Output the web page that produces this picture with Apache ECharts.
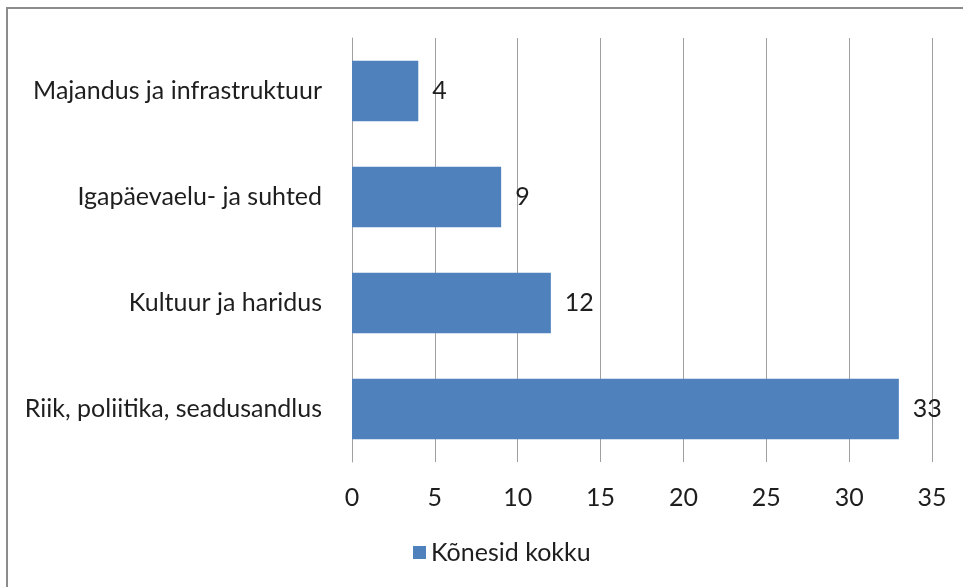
<!DOCTYPE html>
<html>
<head>
<meta charset="utf-8">
<script src="https://cdn.jsdelivr.net/npm/echarts@6/dist/echarts.min.js"></script>
<style>
  html, body { margin: 0; padding: 0; background: #fff; }
  #frame { position: absolute; left: 6px; top: 7px; width: 970px; height: 600px; border: 2px solid #8c8c8c; box-sizing: border-box; }
  #chart { position: absolute; left: 0; top: 0; width: 963px; height: 587px; }
</style>
</head>
<body>
<div id="frame"></div>
<div id="chart"></div>
<script>
// teemad ülalt alla
var categories = ['Majandus ja infrastruktuur', 'Igapäevaelu- ja suhted', 'Kultuur ja haridus', 'Riik, poliitika, seadusandlus'];
var speeches = [4, 9, 12, 33];
var seriesName = 'Kõnesid kokku';

var font = 'Lato, "Open Sans", sans-serif';
var fs = 25;
var myChart = echarts.init(document.getElementById('chart'));
myChart.setOption({
    animation: false,
    textStyle: { fontFamily: font },
    grid: { left: 352, right: 31, top: 38, bottom: 125, containLabel: false },
    legend: {
        bottom: 17,
        left: 408,
        itemWidth: 13,
        itemHeight: 13,
        icon: 'rect',
        itemGap: 6,
        textStyle: { fontSize: fs, color: '#1e1e1e', fontFamily: font },
        data: [seriesName]
    },
    xAxis: {
        type: 'value',
        min: 0,
        max: 35,
        interval: 5,
        axisLine: { show: false },
        axisTick: { show: false },
        splitLine: { show: true, lineStyle: { color: '#a0a0a0', width: 1 } },
        axisLabel: { fontSize: fs, color: '#1e1e1e', margin: 23, fontFamily: font }
    },
    yAxis: {
        type: 'category',
        inverse: true,
        data: categories,
        axisLine: { show: true, lineStyle: { color: '#a0a0a0' } },
        axisTick: { show: false },
        axisLabel: { fontSize: fs, color: '#1e1e1e', margin: 30, fontFamily: font }
    },
    series: [{
        name: seriesName,
        type: 'bar',
        data: speeches,
        barCategoryGap: '43%',
        itemStyle: { color: '#4f81bd' },
        label: { show: true, position: 'right', distance: 14, fontSize: fs, color: '#1e1e1e', fontFamily: font }
    }]
});
</script>
</body>
</html>
